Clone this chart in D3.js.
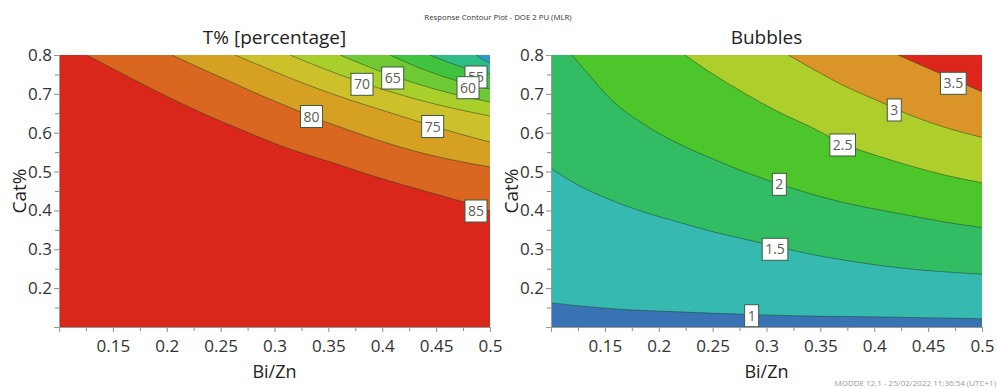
<!DOCTYPE html>
<html>
<head>
<meta charset="utf-8">
<script src="https://cdn.jsdelivr.net/npm/d3@7"></script>
<style>
  body { margin: 0; background: #fff; }
  svg { display: block; font-family: "Open Sans", "Noto Sans", sans-serif; }
</style>
</head>
<body>
<svg id="chart" width="997" height="388"></svg>
<script>
// ---- Axis ticks -------------------------------------------------------
const xMajorTicks = [0.15, 0.2, 0.25, 0.3, 0.35, 0.4, 0.45, 0.5];
const xMinorTicks = [0.125, 0.175, 0.225, 0.275, 0.325, 0.375, 0.425, 0.475];
const yMajorTicks = [0.2, 0.3, 0.4, 0.5, 0.6, 0.7, 0.8];
const yMinorTicks = [0.15, 0.25, 0.35, 0.45, 0.55, 0.65, 0.75];

// ---- T% [percentage]: contour levels and iso-lines as [Bi/Zn, Cat%] ----
const tLevels = [85, 80, 75, 70, 65, 60, 55, 50];
const tLine85 = [[0.1257,0.8],[0.1566,0.755],[0.1891,0.7086],[0.2216,0.6649],[0.2541,0.6250],[0.2819,0.5928],[0.3051,0.5671],[0.3283,0.5452],[0.3561,0.5208],[0.3886,0.4912],[0.4165,0.4680],[0.4443,0.4461],[0.4722,0.4243],[0.5,0.3985]];
const tLine80 = [[0.2046,0.8],[0.2309,0.7665],[0.2587,0.7318],[0.2865,0.6971],[0.3144,0.6649],[0.3343,0.6417],[0.3608,0.6147],[0.3886,0.5877],[0.4165,0.5632],[0.4443,0.5427],[0.4722,0.5259],[0.5,0.5118]];
const tLine75 = [[0.2633,0.8],[0.2865,0.773],[0.3144,0.7408],[0.3422,0.7112],[0.3701,0.6842],[0.3979,0.6597],[0.4258,0.6353],[0.4468,0.6173],[0.4722,0.5967],[0.5,0.5761]];
const tLine70 = [[0.3144,0.8],[0.3608,0.749],[0.4072,0.7058],[0.4536,0.6706],[0.5,0.643]];
const tLine65 = [[0.3608,0.8],[0.3956,0.7606],[0.4304,0.7274],[0.4652,0.7001],[0.5,0.679]];
const tLine60 = [[0.4072,0.8],[0.4304,0.7714],[0.4536,0.7475],[0.4768,0.7277],[0.5,0.7125]];
const tLine55 = [[0.4443,0.8],[0.4722,0.7707],[0.5,0.7511]];
const tLine50 = [[0.487,0.8],[0.4935,0.7876],[0.5,0.7794]];
// where each level's value is printed along its line
const tLabelAt = [[0.487,0.3985],[0.3343,0.6417],[0.4468,0.616],[0.3812,0.7246],[0.4097,0.7408],[0.4796,0.7158],[0.487,0.7434],null];

// ---- Bubbles: contour levels and iso-lines as [Bi/Zn, Cat%] ------------
const bLevels = [1, 1.5, 2, 2.5, 3, 3.5];
const bLine1 = [[0.1,0.162],[0.1563,0.147],[0.2181,0.139],[0.2861,0.132],[0.3417,0.128],[0.4035,0.126],[0.5,0.121]];
const bLine15 = [[0.1,0.508],[0.1253,0.465],[0.1563,0.426],[0.1872,0.395],[0.2181,0.370],[0.2490,0.346],[0.2799,0.326],[0.3108,0.306],[0.3417,0.287],[0.3726,0.272],[0.4035,0.259],[0.4345,0.249],[0.4654,0.242],[0.5,0.236]];
const bLine2 = [[0.1192,0.8],[0.1315,0.761],[0.1563,0.684],[0.1872,0.620],[0.2181,0.572],[0.2490,0.534],[0.2799,0.499],[0.3108,0.469],[0.3417,0.442],[0.3726,0.4195],[0.4035,0.402],[0.4345,0.386],[0.4654,0.370],[0.5,0.356]];
const bLine25 = [[0.2243,0.8],[0.2490,0.753],[0.2799,0.701],[0.3108,0.654],[0.3417,0.614],[0.3726,0.570],[0.4035,0.540],[0.4345,0.514],[0.4654,0.491],[0.5,0.471]];
const bLine3 = [[0.3201,0.8],[0.3417,0.766],[0.3726,0.720],[0.4035,0.682],[0.4345,0.644],[0.4654,0.614],[0.5,0.588]];
const bLine35 = [[0.4221,0.8],[0.4499,0.766],[0.4746,0.736],[0.5,0.7055]];
const bLabelAt = [[0.2862,0.129],[0.3079,0.300],[0.3119,0.4672],[0.3707,0.5684],[0.4186,0.6585],[0.4734,0.7272]];

// ---- Band colours: first entry is the region below the first line ------
const tColors = ["#da271b", "#d9671f", "#d6a023", "#cdc12b", "#a9cf2c", "#6ec934", "#40c33e", "#2ebd86", "#3297c6"];
const bColors = ["#3a73b5", "#35b9b0", "#32bd65", "#4dc62c", "#aecf2b", "#da9428", "#dc261b"];

const panels = [
  { id: "t", title: "T% [percentage]", left: 59, levels: tLevels,
    lines: [tLine85, tLine80, tLine75, tLine70, tLine65, tLine60, tLine55, tLine50],
    labels: tLabelAt, colors: tColors, labelOrder: [0, 1, 2, 3, 4, 6, 5] },
  { id: "b", title: "Bubbles", left: 551, levels: bLevels,
    lines: [bLine1, bLine15, bLine2, bLine25, bLine3, bLine35],
    labels: bLabelAt, colors: bColors, labelOrder: [0, 1, 2, 3, 4, 5] }
];

const plotW = 431, plotTop = 55, plotBottom = 327;
const svg = d3.select("#chart");

svg.append("text")
  .attr("x", 498).attr("y", 20)
  .attr("text-anchor", "middle")
  .attr("font-size", 7.8).attr("fill", "#333")
  .text("Response Contour Plot - DOE 2 PU (MLR)");

svg.append("text")
  .attr("x", 996).attr("y", 386)
  .attr("text-anchor", "end")
  .attr("font-size", 8).attr("fill", "#9a9a9a")
  .text("MODDE 12.1 - 25/02/2022 11:36:54 (UTC+1)");

panels.forEach(p => {
  const x = d3.scaleLinear().domain([0.1, 0.5]).range([p.left, p.left + plotW]);
  const y = d3.scaleLinear().domain([0.1, 0.8]).range([plotBottom, plotTop]);
  const g = svg.append("g");

  const clipId = "clip-" + p.id;
  g.append("clipPath").attr("id", clipId)
    .append("rect")
    .attr("x", x(0.1)).attr("y", y(0.8))
    .attr("width", x(0.5) - x(0.1)).attr("height", y(0.1) - y(0.8));

  const plot = g.append("g").attr("clip-path", `url(#${clipId})`);

  // lowest band covers the whole area, each line then paints the region above it
  plot.append("rect")
    .attr("x", x(0.1)).attr("y", y(0.8))
    .attr("width", x(0.5) - x(0.1)).attr("height", y(0.1) - y(0.8))
    .attr("fill", p.colors[0]);

  const curve = d3.line().x(d => x(d[0])).y(d => y(d[1])).curve(d3.curveMonotoneX);

  p.lines.forEach((pts, i) => {
    const closing = `L${x(0.6)},${y(0.9)}L${x(0.0)},${y(0.9)}Z`;
    plot.append("path")
      .attr("d", curve(pts) + closing)
      .attr("fill", p.colors[i + 1]);
  });

  p.lines.forEach(pts => {
    plot.append("path")
      .attr("d", curve(pts))
      .attr("fill", "none")
      .attr("stroke", "#1f3a22")
      .attr("stroke-opacity", 0.55)
      .attr("stroke-width", 0.9);
  });

  // value labels in white boxes
  const lab = g.append("g");
  p.labelOrder.forEach(i => {
    const at = p.labels[i];
    if (!at) return;
    const lg = lab.append("g").attr("transform", `translate(${x(at[0])},${y(at[1])})`);
    const rect = lg.append("rect");
    const t = lg.append("text")
      .attr("text-anchor", "middle").attr("dy", "0.36em")
      .attr("font-size", 14).attr("fill", "#5d5d55")
      .text(d3.format("~g")(p.levels[i]));
    const w = t.node().getComputedTextLength() + 6;
    rect.attr("x", -w / 2).attr("y", -11).attr("width", w).attr("height", 22)
      .attr("fill", "#fff").attr("stroke", "#3f5c42").attr("stroke-width", 1);
  });

  // axes
  const fmt = d3.format("~g");
  g.append("g").attr("transform", `translate(0,${plotBottom})`)
    .call(d3.axisBottom(x).tickValues(xMajorTicks).tickFormat(fmt).tickSize(5).tickPadding(8));
  g.append("g").attr("transform", `translate(0,${plotBottom})`)
    .call(d3.axisBottom(x).tickValues(xMinorTicks).tickFormat("").tickSize(4));
  g.append("g").attr("transform", `translate(${p.left},0)`)
    .call(d3.axisLeft(y).tickValues(yMajorTicks).tickFormat(fmt).tickSize(5).tickPadding(2));
  g.append("g").attr("transform", `translate(${p.left},0)`)
    .call(d3.axisLeft(y).tickValues(yMinorTicks).tickFormat("").tickSize(4));

  g.selectAll(".domain").attr("stroke", "#9a9a9a");
  g.selectAll(".tick line").attr("stroke", "#8a8a8a");
  g.selectAll(".tick text").attr("font-size", 17).attr("fill", "#333")
    .attr("font-family", "\"Open Sans\", \"Noto Sans\", sans-serif");

  // titles
  g.append("text")
    .attr("x", p.left + plotW / 2).attr("y", 44)
    .attr("text-anchor", "middle").attr("font-size", 19).attr("fill", "#222")
    .text(p.title);
  g.append("text")
    .attr("x", p.left + plotW / 2).attr("y", 378)
    .attr("text-anchor", "middle").attr("font-size", 18).attr("fill", "#222")
    .text("Bi/Zn");
  g.append("text")
    .attr("transform", `translate(${p.left - 33},191) rotate(-90)`)
    .attr("text-anchor", "middle").attr("font-size", 19).attr("fill", "#222")
    .text("Cat%");
});
</script>
</body>
</html>
